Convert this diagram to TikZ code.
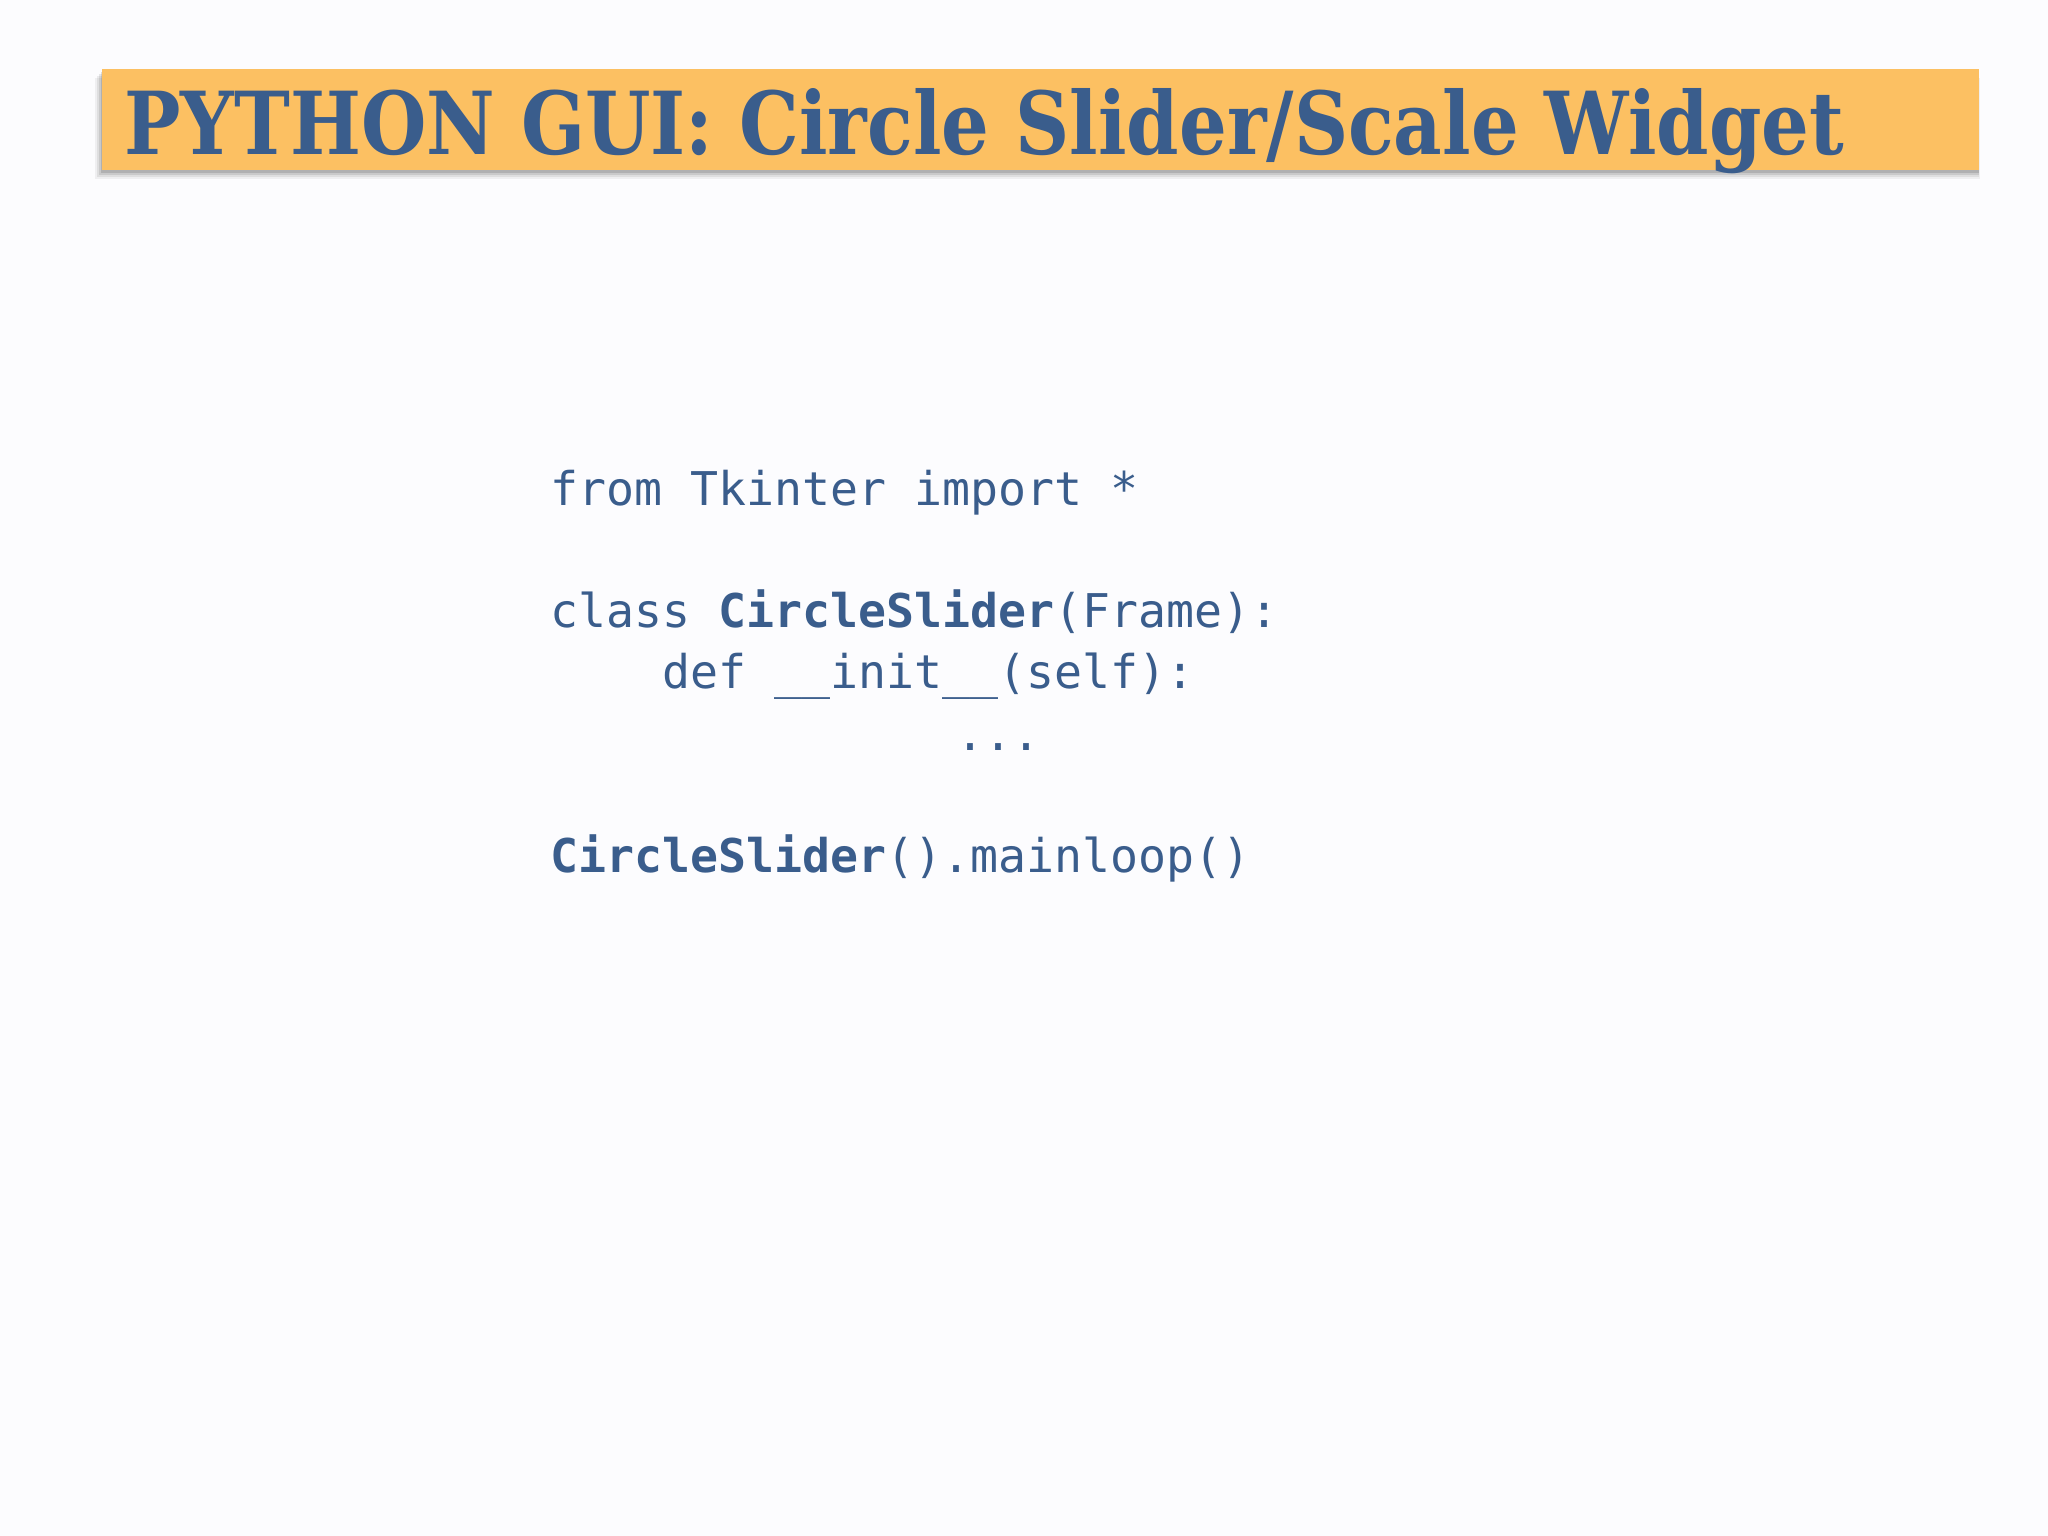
\documentclass[tikz,border=0pt]{standalone}
\usepackage{fontspec}
\usepackage{graphicx}
\newfontfamily\titlefont{DejaVu Serif}[BoldFont={DejaVu Serif Bold}]
\newfontfamily\codefont{DejaVu Sans Mono}[BoldFont={DejaVu Sans Mono Bold}]
\definecolor{bgcol}{HTML}{FCFCFE}
\definecolor{barcol}{HTML}{FCC062}
\definecolor{inkblue}{HTML}{3A5D8C}
\tikzset{
  codeline/.style={anchor=base west, inner sep=0pt, text=inkblue, font=\codefont\fontsize{46.5}{61.3}\selectfont},
  titlebar/.style={fill=barcol, draw=none},
}
\begin{document}
\begin{tikzpicture}[x=1pt,y=-1pt]
\useasboundingbox (0,0) rectangle (2048,1536);
\fill[bgcol] (0,0) rectangle (2048,1536);
% shadow of the title bar
\foreach \o/\op in {9/0.05,7/0.07,5/0.09,3/0.12}{
  \fill[black,opacity=\op] (102-\o+2,69+\o) rectangle (1979-1+\o*0.2,170+\o);
}
\node[titlebar, anchor=north west, minimum width=1877pt, minimum height=101pt, inner sep=0pt] (bar) at (102,69) {};
\node[anchor=base west, inner sep=0pt, text=inkblue] (title) at (124,154)
  {\resizebox{1719pt}{66pt}{\titlefont\bfseries PYTHON GUI: Circle Slider/Scale Widget}};
% code
\node[codeline] (l1) at (550,505) {from Tkinter import *};
\node[codeline] (l2) at (550,627) {class \textbf{CircleSlider}(Frame):};
\node[codeline] (l3) at (662,688) {def \_\_init\_\_(self):};
\node[codeline] (l4) at (956,750) {...};
\node[codeline] (l5) at (550,872) {\textbf{CircleSlider}().mainloop()};
\end{tikzpicture}
\end{document}
